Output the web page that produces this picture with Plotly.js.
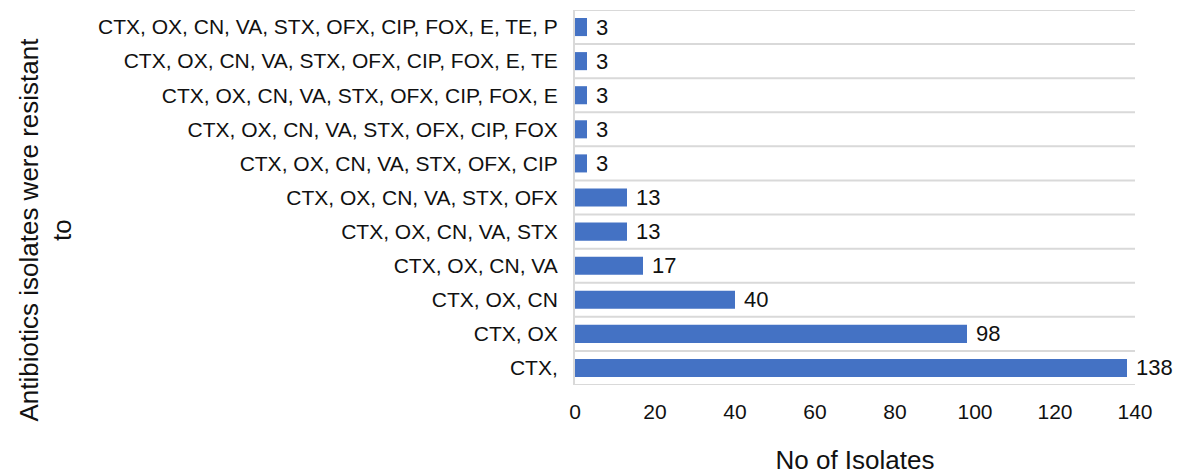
<!DOCTYPE html>
<html>
<head>
<meta charset="utf-8">
<script src="https://cdn.plot.ly/plotly-3.0.1.min.js"></script>
<style>html,body{margin:0;padding:0;background:#fff;}#chart{width:1177px;height:475px;}</style>
</head>
<body>
<div id="chart"></div>
<script>
// Categories from bottom to top
const combos = [
  "CTX,",
  "CTX, OX",
  "CTX, OX, CN",
  "CTX, OX, CN, VA",
  "CTX, OX, CN, VA, STX",
  "CTX, OX, CN, VA, STX, OFX",
  "CTX, OX, CN, VA, STX, OFX, CIP",
  "CTX, OX, CN, VA, STX, OFX, CIP, FOX",
  "CTX, OX, CN, VA, STX, OFX, CIP, FOX, E",
  "CTX, OX, CN, VA, STX, OFX, CIP, FOX, E, TE",
  "CTX, OX, CN, VA, STX, OFX, CIP, FOX, E, TE, P"
];
const isolates = [138, 98, 40, 17, 13, 13, 3, 3, 3, 3, 3];
const xTicks = [0, 20, 40, 60, 80, 100, 120, 140];
const xTitle = "No of Isolates";
const yTitle = "Antibiotics isolates were resistant<br>to";

const font = "'Liberation Sans', Arial, sans-serif";
const gridShapes = [];
for (let i = 0; i <= combos.length; i++) {
  gridShapes.push({
    type: "line", xref: "paper", yref: "y",
    x0: 0, x1: 1, y0: i - 0.5, y1: i - 0.5,
    line: {color: "#d9d9d9", width: 2}, layer: "below"
  });
}

const trace = {
  type: "bar",
  orientation: "h",
  x: isolates,
  y: combos,
  width: 0.53,
  marker: {color: "#4472c4", line: {width: 0}},
  text: isolates.map(v => "\u00a0" + v),
  textposition: "outside",
  constraintext: "none",
  textfont: {family: font, size: 22, color: "#111"},
  cliponaxis: false,
  hoverinfo: "x+y"
};

const layout = {
  width: 1177, height: 475,
  margin: {l: 575, r: 42, t: 10, b: 90},
  paper_bgcolor: "#fff", plot_bgcolor: "#fff",
  showlegend: false,
  font: {family: font, color: "#111"},
  xaxis: {
    range: [0, 140],
    tickvals: xTicks,
    showgrid: false, zeroline: false,
    showline: false,
    ticks: "outside", ticklen: 8, tickcolor: "rgba(0,0,0,0)",
    tickfont: {family: font, size: 21, color: "#111"},
    title: {text: xTitle, font: {family: font, size: 26, color: "#111"}, standoff: 39},
    automargin: false
  },
  yaxis: {
    type: "category",
    categoryorder: "array",
    categoryarray: combos,
    range: [-0.5, combos.length - 0.5],
    showgrid: false, zeroline: false,
    showline: true, linecolor: "#d9d9d9", linewidth: 2,
    ticks: "outside", ticklen: 11, tickcolor: "rgba(0,0,0,0)",
    tickfont: {family: font, size: 21, color: "#111"},
    automargin: false
  },
  annotations: [{
    text: yTitle, textangle: -90,
    xref: "paper", yref: "paper", x: 0, y: 0.5,
    xanchor: "center", yanchor: "middle",
    xshift: -530, yshift: -32,
    showarrow: false, align: "center",
    font: {family: font, size: 26, color: "#111"}
  }],
  shapes: gridShapes
};

Plotly.newPlot("chart", [trace], layout, {displayModeBar: false, staticPlot: true});
</script>
</body>
</html>
